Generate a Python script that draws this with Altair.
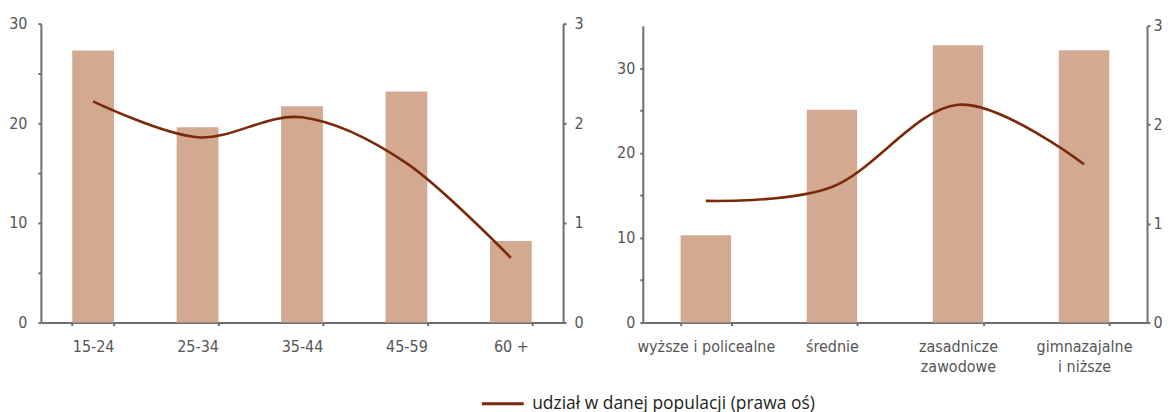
import altair as alt
import pandas as pd

# ---- data ----
age_groups = ["15-24", "25-34", "35-44", "45-59", "60 +"]
age_bars = [27.3, 19.6, 21.7, 23.2, 8.2]          # left axis
age_line = [2.22, 1.86, 2.06, 1.60, 0.65]         # right axis

edu_groups = ["wyższe i policealne", "średnie", "zasadnicze|zawodowe", "gimnazajalne|i niższe"]
edu_bars = [10.3, 25.1, 32.7, 32.1]               # left axis
edu_line = [1.23, 1.37, 2.20, 1.60]               # right axis

left_ticks_age = [0, 5, 10, 15, 20, 25, 30]
left_ticks_edu = [0, 5, 10, 15, 20, 25, 30]
right_ticks = [0, 1, 2, 3]

SERIES = "udział w danej populacji (prawa oś)"

# ---- style ----
AXIS_GRAY = "#6e6e6e"
LABEL_GRAY = "#555555"
BAR = "#d3a991"
LINE = "#7a2a0b"
FONT = "Liberation Sans Narrow, DejaVu Sans Condensed, sans-serif"


def panel(cats, bars, line, width, y_max, left_ticks, range_top, ypad, rpad, legend):
    df = pd.DataFrame({"kat": cats, "slupek": bars, "linia": line,
                       "seria": [SERIES] * len(cats)})
    x = alt.X("kat:N", sort=cats, title=None,
              scale=alt.Scale(paddingInner=0.6, paddingOuter=0.3),
              axis=alt.Axis(labelAngle=0, tickBand="extent",
                            labelExpr="isValid(datum.value) ? split(datum.value, '|') : ''",
                            labelFont=FONT, labelFontSize=16, labelColor=LABEL_GRAY,
                            labelPadding=13, labelLineHeight=20, labelBaseline="top",
                            tickSize=3, tickWidth=2, tickColor=AXIS_GRAY,
                            domainColor=AXIS_GRAY, domainWidth=2, grid=False))
    base = alt.Chart(df).encode(x=x)
    bar_layer = base.mark_bar(color=BAR).encode(
        y=alt.Y("slupek:Q", title=None,
                scale=alt.Scale(domain=[0, y_max], range=[300, range_top], nice=False, zero=True),
                axis=alt.Axis(values=left_ticks,
                              labelExpr="datum.value % 10 == 0 ? datum.label : ''",
                              labelFont=FONT, labelFontSize=16, labelColor=LABEL_GRAY,
                              labelPadding=ypad, tickSize=3, tickWidth=2, tickColor=AXIS_GRAY,
                              domainColor=AXIS_GRAY, domainWidth=2, grid=False))
    )
    line_layer = base.mark_line(interpolate="cardinal", strokeWidth=2.6).encode(
        y=alt.Y("linia:Q", title=None,
                scale=alt.Scale(domain=[0, 3], range=[300, range_top], nice=False),
                axis=alt.Axis(orient="right", values=right_ticks,
                              labelFont=FONT, labelFontSize=16, labelColor=LABEL_GRAY,
                              labelPadding=rpad, tickSize=3, tickWidth=2, tickColor=AXIS_GRAY,
                              domainColor=AXIS_GRAY, domainWidth=2, grid=False)),
        color=alt.Color("seria:N", scale=alt.Scale(range=[LINE]), legend=legend),
    )
    return (alt.layer(bar_layer, line_layer)
            .resolve_scale(y="independent")
            .properties(width=width, height=300))


legend = alt.Legend(title=None, orient="none", legendX=441, legendY=359,
                    symbolType="stroke", symbolSize=1764, symbolStrokeWidth=3,
                    labelFont="Open Sans", labelFontSize=17.5, labelColor="#231f20",
                    labelOffset=7, labelLimit=500, padding=0)

left = panel(age_groups, age_bars, age_line, 524, 30, left_ticks_age, 0, 11, 8, legend)
right = panel(edu_groups, edu_bars, edu_line, 506, 35, left_ticks_edu, 2, 5, 3, legend)

chart = (alt.hconcat(left, right, spacing=32)
         .resolve_scale(color="shared")
         .properties(padding={"left": 0, "top": 7, "right": 0, "bottom": 0})
         .configure_view(stroke=None))

chart.save("out.html", embed_options={"renderer": "svg", "actions": False})
